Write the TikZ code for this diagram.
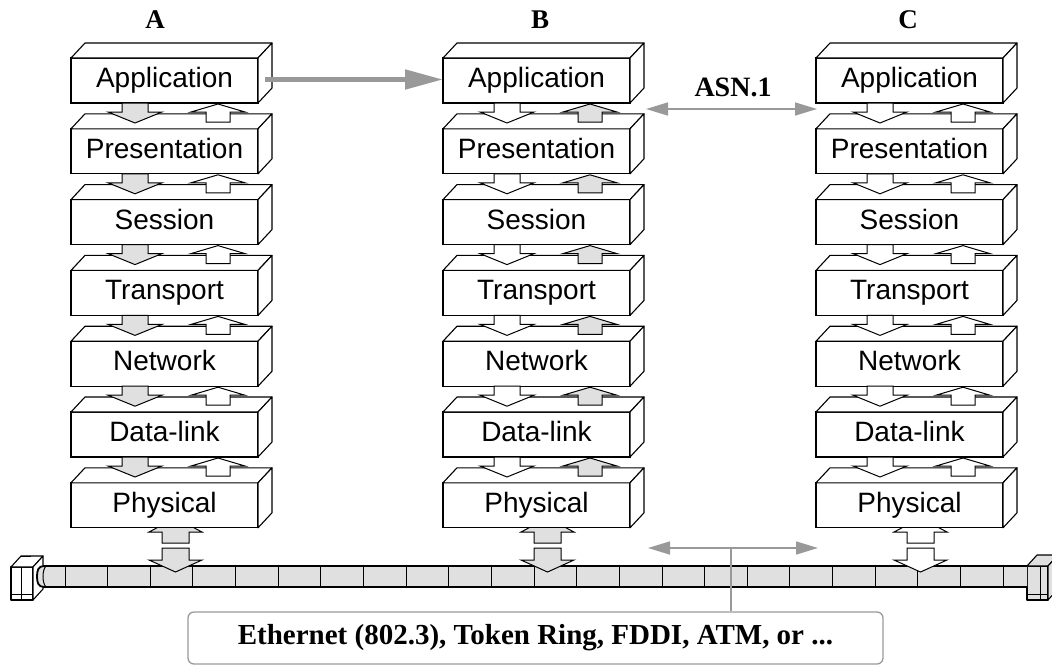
\documentclass[tikz,border=0pt]{standalone}
\usepackage{fontspec}
\setmainfont{Liberation Serif}
\newfontfamily\arial{Liberation Sans}
\usetikzlibrary{calc,arrows.meta}
\definecolor{dot}{gray}{0.88}
\definecolor{lgray}{gray}{0.6}
\tikzset{
  layer/.style={draw, fill=white, line width=1.1pt, minimum width=187pt, minimum height=45pt,
    inner sep=0pt, outer sep=0pt, text height=20pt, text depth=6pt,
    font=\arial\fontsize{28}{30}\selectfont},
  face/.style={draw, fill=white, line width=1.1pt, line join=round},
  arr/.style={draw, line width=1pt, line join=miter},
  title/.style={font=\bfseries\fontsize{27}{30}\selectfont, inner sep=0pt},
  gline/.style={draw=lgray, line width=1.6pt},
  garr/.style={lgray, line width=1.6pt, {Triangle[length=22pt,width=13pt]}-{Triangle[length=22pt,width=13pt]}},
}
\newcommand\downarr[2]{\path[arr,fill=#2] ($(#1)+(-13,0)$) -- ++(0,9) -- ++(-14,0) -- ++(27,11) -- ++(27,-11) -- ++(-14,0) -- ++(0,-9) -- cycle;}
\newcommand\uparr[2]{\path[arr,fill=#2] ($(#1)+(0,1)$) -- ++(27,8) -- ++(-15,0) -- ++(0,10) -- ++(-24,0) -- ++(0,-10) -- ++(-15,0) -- cycle;}
\begin{document}
\begin{tikzpicture}[x=1pt,y=-1pt]
\useasboundingbox (0,0) rectangle (1052,665);
% connectors at cable ends
\path[face,fill=white] (11,567) rectangle (33,600);
\path[face] (11,567) -- (21,556) -- (43,556) -- (33,567) -- cycle;
\path[face] (33,567) -- (43,556) -- (43,589) -- (33,600) -- cycle;
\draw[line width=0.8pt] (21,567) -- (21,600) (11,594) -- (33,594) (21,556) -- (31,556);
\path[face,fill=dot] (1027,566) rectangle (1048,600);
\path[face,fill=dot] (1027,566) -- (1037,555) -- (1058,555) -- (1048,566) -- cycle;
\path[face,fill=dot] (1048,566) -- (1058,555) -- (1058,589) -- (1048,600) -- cycle;
\draw[line width=0.8pt] (1040,566) -- (1040,600) (1027,594) -- (1048,594);
% cable
\path[fill=dot] (1027,566) -- (44,566) .. controls (38,566) and (37,571) .. (37,576.5) .. controls (37,582) and (38,587) .. (44,587) -- (1027,587) -- cycle;
\draw[line width=1.8pt] (1027,566) -- (44,566) .. controls (38,566) and (37,571) .. (37,576.5) .. controls (37,582) and (38,587) .. (44,587) -- (1027,587);
\draw[line width=1pt] (46,566) .. controls (42,570) and (42,583) .. (46,587);
\foreach \i in {0,...,22} { \draw[line width=0.9pt] ({65+42.64*\i},566) -- ({65+42.64*\i},587); }
% stacks
\foreach \s/\x/\df/\uf/\cf in {A/71/dot/white/dot, B/443/white/dot/dot, C/816/white/white/white} {
  % up arrow from cable into physical layer (partly hidden)
  \coordinate (\s cu) at (\x+104.5,532);
  \path[arr,fill=\cf] ($(\s cu)+(0,-14)$) -- ++(26.5,14) -- ++(-13,0) -- ++(0,11) -- ++(-27,0) -- ++(0,-11) -- ++(-13,0) -- cycle;
  \foreach \t [count=\k from 0] in {Application,Presentation,Session,Transport,Network,Data-link,Physical} {
    \pgfmathsetmacro\yy{58+70.8*\k}
    \node[layer] (\s\k) at (\x+93.5,\yy+22.5) {\t};
    \path[face] (\s\k.north west) -- ++(14,-15) -- ($(\s\k.north east)+(14,-15)$) -- (\s\k.north east) -- cycle;
    \path[face] (\s\k.north east) -- ++(14,-15) -- ++(0,45) -- (\s\k.south east) -- cycle;
  }
  \foreach \k in {0,...,5} {
    \coordinate (\s d\k) at ($(\s\k.south west)+(64,0)$);
    \coordinate (\s u\k) at ($(\s\k.south west)+(147,0)$);
    \downarr{\s d\k}{\df}
    \uparr{\s u\k}{\uf}
  }
  % down arrow into cable
  \coordinate (\s cd) at (\x+104.5,548);
  \path[arr,fill=\cf] ($(\s cd)+(-13.5,0)$) -- ++(0,12) -- ++(-13,0) -- ++(26.5,12) -- ++(26.5,-12) -- ++(-13,0) -- ++(0,-12) -- cycle;
}
% titles
\node[title] (tA) at (155,20) {A};
\node[title] (tB) at (540,20) {B};
\node[title] (tC) at (908,20) {C};
% A to B arrow
\draw[lgray, line width=5pt, -{Triangle[length=38pt,width=19pt]}] ($(A0.east)+(7,-1)$) -- ($(B0.west)+(0,-1)$);
% ASN.1
\coordinate (asnL) at ($(B0.south east)+(16,6)$);
\coordinate (asnR) at ($(C0.south west)+(1,6)$);
\draw[garr] (asnL) -- (asnR);
\node[title, font=\bfseries\fontsize{28}{30}\selectfont] (asn) at (733,87) {ASN.1};
% network arrow and label
\coordinate (netL) at (648,548);
\coordinate (netR) at (818,548);
\coordinate (netM) at (731,548);
\draw[garr] (netL) -- (netR);
\node[draw=lgray, line width=1.3pt, rounded corners=6pt, minimum width=695pt, minimum height=52pt,
      font=\bfseries\fontsize{29}{31}\selectfont, inner sep=0pt] (net) at (535.5,638) {Ethernet (802.3), Token Ring, FDDI, ATM, or ...};
\draw[gline] (netM) -- (netM |- net.north);
\end{tikzpicture}
\end{document}
